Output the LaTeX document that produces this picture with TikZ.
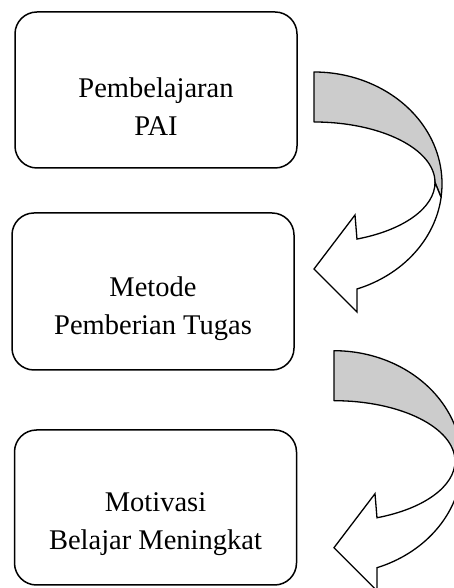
\documentclass[tikz,border=0pt]{standalone}
\usepackage{fontspec}
\setmainfont{Liberation Serif}
\usetikzlibrary{positioning}

\tikzset{
    stage/.style={draw, line width=1.5pt, rounded corners=22pt, minimum width=282pt, minimum height=156pt},
    stagetext/.style={align=center, font=\fontsize{28.5}{38}\selectfont},
    backface/.style={draw, line width=1.3pt, fill=black!20, line join=round},
    frontface/.style={draw, line width=1.3pt, fill=white, line join=miter},
}

\begin{document}
\begin{tikzpicture}[x=1pt, y=1pt]
    \useasboundingbox (0,0) rectangle (454,588);

    % Stage boxes
    \node[stage] (pai) at (156,498) {};
    \node[stagetext] (paitext) at ([yshift=-17pt]pai.center) {Pembelajaran\\PAI};

    \node[stage, minimum height=157pt] (tugas) at (153,296.5) {};
    \node[stagetext] (tugastext) at ([yshift=-17pt]tugas.center) {Metode\\Pemberian Tugas};

    \node[stage, minimum height=155pt] (motivasi) at (155.5,80.5) {};
    \node[stagetext] (motivasitext) at ([yshift=-17pt]motivasi.center) {Motivasi\\Belajar Meningkat};

    % Curved arrows
    \foreach \ax/\ay in {314/516, 334/237.3} {
        \begin{scope}[shift={(\ax,\ay)}]
            % back of the band
            \draw[backface] (0,0) arc[start angle=90, end angle=-7, x radius=128pt, y radius=111.7pt]
                -- (121,-110.5) arc[start angle=0, end angle=90, x radius=121pt, y radius=60.5pt] -- cycle;
            % front of the band with head
            \draw[frontface] (121,-110.5) arc[start angle=0, end angle=-69.2, x radius=121pt, y radius=60.5pt]
                -- (41,-143) -- (0,-197) -- (43,-240) -- (43,-217)
                arc[start angle=-70.4, end angle=-7, x radius=128pt, y radius=111.7pt] -- cycle;
        \end{scope}
    }
\end{tikzpicture}
\end{document}
